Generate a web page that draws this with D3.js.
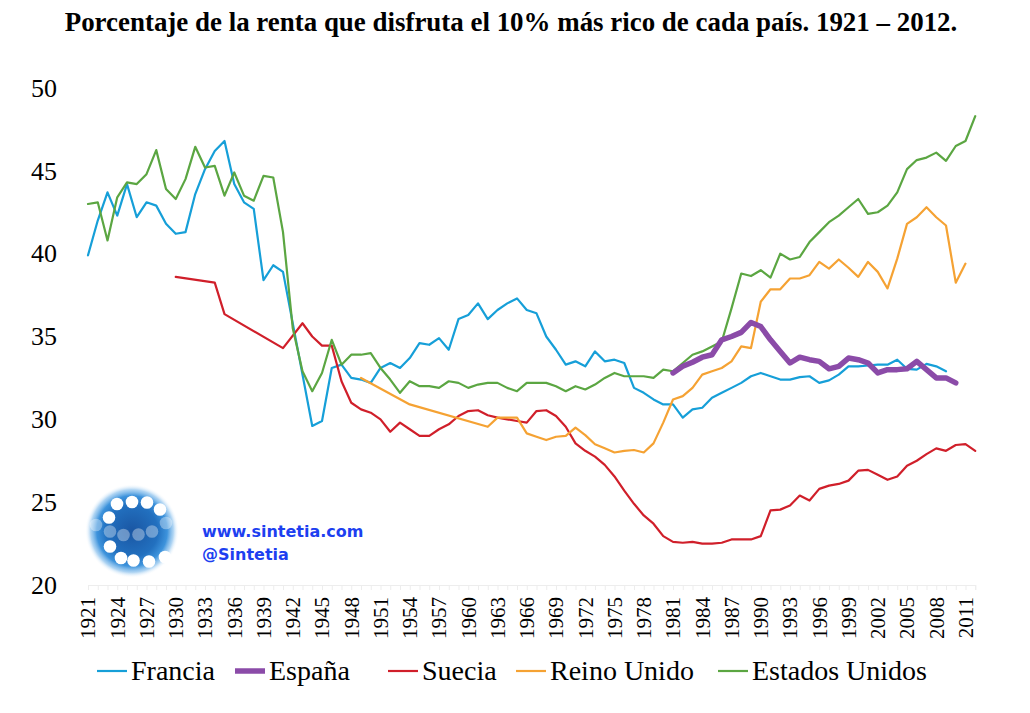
<!DOCTYPE html>
<html>
<head>
<meta charset="utf-8">
<script src="https://cdn.jsdelivr.net/npm/d3@7/dist/d3.min.js"></script>
<style>
  html, body { margin: 0; padding: 0; background: #fff; }
  svg { display: block; }
</style>
</head>
<body>
<svg id="chart" width="1030" height="713"></svg>
<script>
// ---------------- DATA ----------------
const years = d3.range(1921, 2013);
const yTicks = [20, 25, 30, 35, 40, 45, 50];
const xTickLabels = d3.range(1921, 2012, 3);

const francia = [
  39.9, 42.0, 43.7, 42.3, 44.2, 42.2, 43.1, 42.9, 41.8, 41.2,   // 1921-1930
  41.3, 43.6, 45.1, 46.2, 46.8, 44.2, 43.1, 42.7, 38.4, 39.3,   // 1931-1940
  38.9, null, null, 29.6, 29.9, 33.1, 33.3, 32.5, 32.4, 32.2,   // 1941-1950
  33.1, 33.4, 33.1, 33.7, 34.6, 34.5, 34.9, 34.2, 36.05, 36.3,  // 1951-1960
  37.0, 36.05, 36.6, 37.0, 37.3, 36.6, 36.4, 35.0, 34.2, 33.3,  // 1961-1970
  33.5, 33.2, 34.1, 33.5, 33.6, 33.4, 31.9, 31.6, 31.2, 30.9,   // 1971-1980
  30.9, 30.1, 30.6, 30.7, 31.3, 31.6, 31.9, 32.2, 32.6, 32.8,   // 1981-1990
  32.6, 32.4, 32.4, 32.55, 32.6, 32.2, 32.35, 32.7, 33.2, 33.2, // 1991-2000
  33.25, 33.3, 33.3, 33.6, 33.05, 33.0, 33.35, 33.2, 32.9, null,// 2001-2010
  null, null
];

const espana = [
  null, null, null, null, null, null, null, null, null, null,
  null, null, null, null, null, null, null, null, null, null,
  null, null, null, null, null, null, null, null, null, null,
  null, null, null, null, null, null, null, null, null, null,
  null, null, null, null, null, null, null, null, null, null,
  null, null, null, null, null, null, null, null, null, null,
  32.8, 33.2, 33.45, 33.75, 33.9, 34.8, 35.0, 35.25, 35.85, 35.6, // 1981-1990
  34.8, 34.1, 33.4, 33.75, 33.6, 33.5, 33.05, 33.2, 33.7, 33.6,   // 1991-2000
  33.4, 32.8, 33.0, 33.0, 33.05, 33.5, 33.0, 32.5, 32.5, 32.2,    // 2001-2010
  null, null
];

const suecia = [
  null, null, null, null, null, null, null, null, null, 38.6,   // 1921-1930
  null, null, null, 38.25, 36.35, null, null, null, null, null, // 1931-1940
  34.3, null, 35.8, 35.0, 34.45, 34.45, 32.3, 31.0, 30.6, 30.4, // 1941-1950
  30.0, 29.25, 29.8, 29.4, 29.0, 29.0, 29.4, 29.7, 30.2, 30.5,  // 1951-1960
  30.55, 30.25, 30.1, 30.0, 29.9, 29.8, 30.5, 30.55, 30.2, 29.55, // 1961-1970
  28.55, 28.1, 27.75, 27.25, 26.55, 25.7, 24.9, 24.2, 23.7, 22.95, // 1971-1980
  22.6, 22.55, 22.6, 22.5, 22.5, 22.55, 22.75, 22.75, 22.75, 22.95, // 1981-1990
  24.5, 24.55, 24.8, 25.4, 25.1, 25.8, 26.0, 26.1, 26.3, 26.9,  // 1991-2000
  26.95, 26.65, 26.35, 26.55, 27.2, 27.5, 27.9, 28.25, 28.1, 28.45, // 2001-2010
  28.5, 28.1
];

const reinoUnido = [
  null, null, null, null, null, null, null, null, null, null,
  null, null, null, null, null, null, null, null, null, null,
  null, null, null, null, null, null, null, null, 32.5, null,   // 1941-1950
  null, null, null, 30.9, null, null, null, null, null, null,   // 1951-1960
  null, 29.55, 30.1, 30.1, 30.1, 29.15, 28.95, 28.75, 28.95, 29.0, // 1961-1970
  29.5, 29.05, 28.5, 28.25, 28.0, 28.1, 28.15, 28.0, 28.55, 29.8, // 1971-1980
  31.2, 31.4, 31.9, 32.7, 32.9, 33.1, 33.5, 34.4, 34.3, 37.1,   // 1981-1990
  37.85, 37.85, 38.5, 38.5, 38.7, 39.5, 39.1, 39.65, 39.15, 38.6, // 1991-2000
  39.5, 38.9, 37.9, 39.7, 41.8, 42.2, 42.8, 42.2, 41.7, 38.25,  // 2001-2010
  39.4, null
];

const estadosUnidos = [
  43.0, 43.1, 40.8, 43.4, 44.3, 44.2, 44.8, 46.25, 43.9, 43.3,  // 1921-1930
  44.5, 46.45, 45.2, 45.3, 43.5, 44.9, 43.5, 43.2, 44.7, 44.6,  // 1931-1940
  41.3, 35.5, 32.9, 31.7, 32.8, 34.8, 33.3, 33.9, 33.9, 34.0,   // 1941-1950
  33.1, 32.4, 31.6, 32.3, 32.0, 32.0, 31.9, 32.3, 32.2, 31.9,   // 1951-1960
  32.1, 32.2, 32.2, 31.9, 31.7, 32.2, 32.2, 32.2, 32.0, 31.7,   // 1961-1970
  32.0, 31.8, 32.1, 32.5, 32.8, 32.6, 32.6, 32.6, 32.5, 33.0,   // 1971-1980
  32.9, 33.4, 33.9, 34.1, 34.4, 34.7, 36.7, 38.8, 38.65, 39.0,  // 1981-1990
  38.55, 40.0, 39.65, 39.8, 40.7, 41.3, 41.9, 42.3, 42.8, 43.3, // 1991-2000
  42.4, 42.5, 42.9, 43.7, 45.1, 45.65, 45.8, 46.1, 45.6, 46.5,  // 2001-2010
  46.8, 48.3
];

const seriesNames = ["Francia", "España", "Suecia", "Reino Unido", "Estados Unidos"];
const seriesValues = [francia, espana, suecia, reinoUnido, estadosUnidos];
const seriesColors = ["#169fd8", "#8b4ba8", "#d01f2a", "#f5a233", "#5ba642"];
const seriesWidths = [2.2, 5.5, 2.2, 2.2, 2.2];

const titleText = "Porcentaje de la renta que disfruta el 10% más rico de cada país. 1921 – 2012.";

// ---------------- CHART ----------------
const svg = d3.select("#chart");
const serif = "'Liberation Serif', 'Times New Roman', serif";

const x = d3.scalePoint().domain(years).range([88, 975.25]);
const y = d3.scaleLinear().domain([20, 50]).range([585, 88]);

// Title (fit to the reference width)
const title = svg.append("text")
  .attr("x", 511).attr("y", 31)
  .attr("text-anchor", "middle")
  .style("font-family", serif)
  .style("font-weight", "bold")
  .style("font-size", "22px")
  .text(titleText);
const tl = title.node().getComputedTextLength();
title.style("font-size", (22 * 893 / tl).toFixed(2) + "px");

// Y axis (no line, no ticks)
const yAxis = svg.append("g")
  .attr("transform", "translate(60,0)")
  .call(d3.axisLeft(y).tickValues(yTicks).tickSize(0).tickPadding(3));
yAxis.select(".domain").remove();
yAxis.selectAll("text")
  .style("font-family", serif)
  .style("font-size", "26px")
  .attr("fill", "#000");

// X axis: faint tick marks at every year, rotated labels every 3 years
const xAxis = svg.append("g")
  .attr("transform", "translate(0,585)")
  .call(d3.axisBottom(x).tickValues(years).tickSize(5).tickFormat(""));
xAxis.select(".domain").attr("stroke", "#ededed");
xAxis.selectAll(".tick line").attr("stroke", "#ededed");

svg.append("g").selectAll("text")
  .data(xTickLabels)
  .join("text")
  .attr("transform", d => `translate(${x(d)},597) rotate(-90)`)
  .attr("text-anchor", "end")
  .attr("dy", "0.35em")
  .style("font-family", serif)
  .style("font-size", "21px")
  .text(d => d);

// Lines (connect across missing years, like the original)
const line = d3.line()
  .x(d => x(d.year))
  .y(d => y(d.value));

const drawOrder = [0, 2, 3, 4, 1];
drawOrder.forEach(i => {
  const pts = years.map((yr, k) => ({ year: yr, value: seriesValues[i][k] }))
    .filter(d => d.value !== null);
  svg.append("path")
    .datum(pts)
    .attr("fill", "none")
    .attr("stroke", seriesColors[i])
    .attr("stroke-width", seriesWidths[i])
    .attr("stroke-linejoin", "round")
    .attr("stroke-linecap", "round")
    .attr("d", line);
});

// Legend
const legendX = [97, 235, 388, 516, 718];
const legend = svg.append("g");
seriesNames.forEach((name, i) => {
  legend.append("line")
    .attr("x1", legendX[i]).attr("x2", legendX[i] + 30)
    .attr("y1", 671).attr("y2", 671)
    .attr("stroke", seriesColors[i])
    .attr("stroke-width", seriesWidths[i]);
  legend.append("text")
    .attr("x", legendX[i] + 34).attr("y", 680)
    .style("font-family", serif)
    .style("font-size", "28px")
    .text(name);
});

// Logo (decoration)
const defs = svg.append("defs");
const grad = defs.append("radialGradient").attr("id", "logoGrad");
grad.append("stop").attr("offset", "0%").attr("stop-color", "#1a56a3");
grad.append("stop").attr("offset", "55%").attr("stop-color", "#2270bf");
grad.append("stop").attr("offset", "75%").attr("stop-color", "#3d93dc");
grad.append("stop").attr("offset", "88%").attr("stop-color", "#8cc2ee").attr("stop-opacity", 0.7);
grad.append("stop").attr("offset", "100%").attr("stop-color", "#ffffff").attr("stop-opacity", 0);
const logo = svg.append("g");
logo.append("circle").attr("cx", 132).attr("cy", 531).attr("r", 47).attr("fill", "url(#logoGrad)");
const dotsSolid = [[117,504],[132,502],[147,502.5],[160,509.5],[109,517.5],[110,546.5],[121,558],[133.5,560.5],[149,561.5],[165,557]];
const dotsFaint = [[96,525],[110,531.5],[123.5,535],[138.5,534.5],[152,531.5],[166,523]];
logo.selectAll(".ds").data(dotsSolid).join("circle")
  .attr("cx", d => d[0]).attr("cy", d => d[1]).attr("r", 6.3).attr("fill", "#fff");
logo.selectAll(".df").data(dotsFaint).join("circle")
  .attr("cx", d => d[0]).attr("cy", d => d[1]).attr("r", 6.3).attr("fill", "#fff").attr("fill-opacity", 0.35);

const brand = svg.append("g")
  .style("font-family", "'DejaVu Sans', Verdana, sans-serif")
  .style("font-weight", "bold")
  .style("font-size", "16px")
  .attr("fill", "#1d3ff0");
brand.append("text").attr("x", 202).attr("y", 537).text("www.sintetia.com");
brand.append("text").attr("x", 202).attr("y", 560).text("@Sintetia");
</script>
</body>
</html>
